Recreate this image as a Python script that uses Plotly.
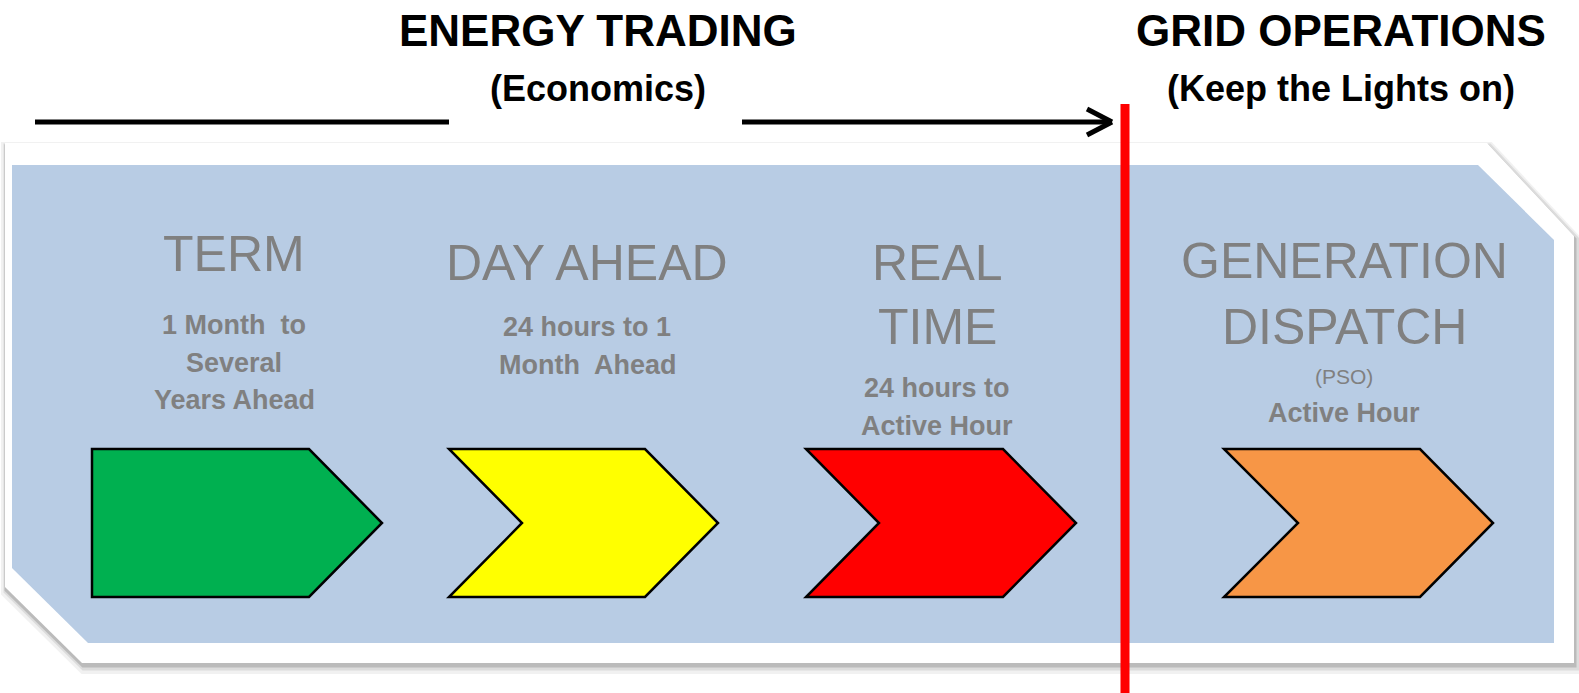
import plotly.graph_objects as go

W, H = 1579, 693

# ---- content ----
stage_titles = [["TERM"], ["DAY AHEAD"], ["REAL", "TIME"], ["GENERATION", "DISPATCH"]]
stage_subs = [["1 Month  to", "Several", "Years Ahead"],
              ["24 hours to 1", "Month  Ahead"],
              ["24 hours to", "Active Hour"],
              ["Active Hour"]]
stage_notes = [None, None, None, "(PSO)"]
stage_colors = ["#00B050", "#FFFF00", "#FF0000", "#F79646"]
header_titles = ["ENERGY TRADING", "GRID OPERATIONS"]
header_subs = ["(Economics)", "(Keep the Lights on)"]

# ---- layout geometry ----
chev_left = [92, 449, 806, 1224]
chev_body = [217, 196, 197, 196]
chev_tip = 73
chev_notch = [0, 73, 73, 74]
chev_top, chev_bot = 449, 597
title_x = [234, 587, 937, 1344]
title_y = [[251], [260], [260, 324], [258, 324]]
sub_y0 = [323, 325, 386, 411]
sub_dy = 37.5
note_y = [None, None, None, 375]
header_x = [598, 1341]

fig = go.Figure()
shapes = []
ann = []

def poly(pts):
    return "M " + " L ".join(f"{x},{y}" for x, y in pts) + " Z"

outer = [(5, 143), (1487, 143), (1574, 236), (1574, 663), (82, 663), (5, 587)]
# shadow layers
for dx, dy, lw, op in [(2, 5, 12, 0.10), (2, 4, 7, 0.18), (1, 3, 3, 0.35)]:
    shapes.append(dict(type="path", path=poly([(x + dx, y + dy) for x, y in outer]),
                       fillcolor="#808080", line=dict(color="#808080", width=lw),
                       opacity=op, layer="below"))
shapes.append(dict(type="path", path=poly(outer), fillcolor="white",
                   line=dict(color="white", width=0), layer="below"))
blue = [(12, 165), (1478, 165), (1554, 240), (1554, 643), (88, 643), (12, 568)]
shapes.append(dict(type="path", path=poly(blue), fillcolor="#B8CCE4",
                   line=dict(width=0), layer="below"))

mid = (chev_top + chev_bot) / 2
for i, col in enumerate(stage_colors):
    L = chev_left[i]
    S = L + chev_body[i]
    pts = [(L, chev_top), (S, chev_top), (S + chev_tip, mid), (S, chev_bot), (L, chev_bot)]
    if chev_notch[i]:
        pts.append((L + chev_notch[i], mid))
    shapes.append(dict(type="path", path=poly(pts), fillcolor=col,
                       line=dict(color="black", width=2.5)))

# header lines and arrow
shapes.append(dict(type="line", x0=35, x1=449, y0=122, y1=122, line=dict(color="black", width=5)))
shapes.append(dict(type="line", x0=742, x1=1110, y0=122, y1=122, line=dict(color="black", width=5)))
for yy in (109, 135):
    shapes.append(dict(type="line", x0=1087, x1=1112, y0=yy, y1=122, line=dict(color="black", width=5)))
# red divider
shapes.append(dict(type="line", x0=1125, x1=1125, y0=104, y1=693, line=dict(color="#FF0000", width=9)))

FONT = "Arial, Liberation Sans, sans-serif"
GRAY = "#808080"

def text(x, y, s, size, color, bold=False):
    ann.append(dict(x=x, y=y, text=f"<b>{s}</b>" if bold else s, showarrow=False,
                    xanchor="center", yanchor="middle",
                    font=dict(family=FONT, size=size, color=color)))

for i in range(2):
    text(header_x[i], 30, header_titles[i], 44, "black", True)
    text(header_x[i], 88, header_subs[i], 36, "black", True)

for i in range(4):
    for j, t in enumerate(stage_titles[i]):
        text(title_x[i], title_y[i][j] + 3, t, 50, GRAY)
    if stage_notes[i]:
        text(title_x[i], note_y[i] + 1, stage_notes[i], 21, GRAY)
    for j, t in enumerate(stage_subs[i]):
        text(title_x[i], sub_y0[i] + j * sub_dy + 2, t, 27, GRAY, True)

fig.update_layout(
    width=W, height=H, margin=dict(l=0, r=0, t=0, b=0),
    paper_bgcolor="white", plot_bgcolor="white",
    xaxis=dict(range=[0, W], visible=False, fixedrange=True),
    yaxis=dict(range=[H, 0], visible=False, fixedrange=True),
    shapes=shapes, annotations=ann, showlegend=False,
)
fig.write_html("out.html", config={"displayModeBar": False},
               post_script="document.body.style.margin='0';document.body.style.overflow='hidden';")
